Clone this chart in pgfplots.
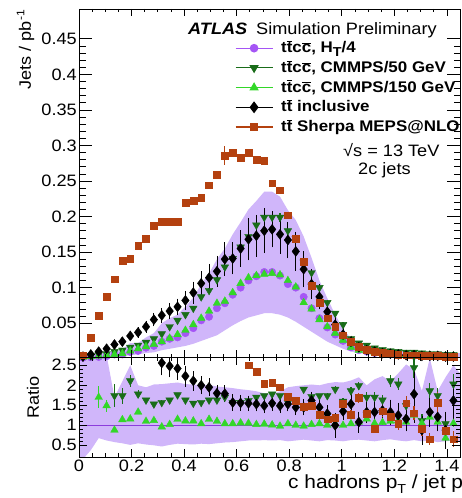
\documentclass[border=0pt]{standalone}
\usepackage{fontspec}
\setmainfont{Liberation Sans}[FakeStretch=1.1]
\usepackage{pgfplots}
\pgfplotsset{compat=1.18}
\usepackage{pgfplotstable}
\usepgfplotslibrary{fillbetween}

\definecolor{htcol}{RGB}{165,85,245}
\definecolor{bandcol}{RGB}{208,182,250}
\definecolor{dkgreen}{RGB}{25,108,25}
\definecolor{ltgreen}{RGB}{50,215,40}
\definecolor{shcol}{RGB}{180,65,15}
\definecolor{onecol}{RGB}{140,60,220}

\newcommand{\tb}{\ensuremath{\overline{\mbox{t}}}}
\newcommand{\cb}{\ensuremath{\overline{\mbox{c}}}}
\newcommand{\sub}[1]{\raisebox{-0.5ex}{\fontsize{13}{13}\selectfont #1}}

% x: bin centre; ht: ttcc H_T/4; c50/c150: CMMPS scales; inc: tt inclusive; sh: Sherpa
\pgfplotstableread{
x     ht     c50   c50e  c150  c150e inc   ince  sh    she
0.015 0.0015 0.003 0.001 0.002 0.001 0.003 0.001 0.005 0.001
0.045 0.002  0.004 0.001 0.003 0.001 0.006 0.001 0.030 0.002
0.075 0.0025 0.006 0.001 0.004 0.001 0.010 0.001 0.061 0.002
0.105 0.0035 0.007 0.001 0.005 0.001 0.014 0.002 0.087 0.002
0.135 0.006  0.010 0.002 0.006 0.001 0.020 0.002 0.112 0.002
0.165 0.006  0.012 0.002 0.007 0.001 0.024 0.002 0.138 0.002
0.195 0.0095 0.016 0.002 0.011 0.001 0.032 0.003 0.141 0.002
0.225 0.011  0.019 0.002 0.014 0.001 0.037 0.004 0.159 0.002
0.255 0.0155 0.023 0.002 0.017 0.001 0.045 0.005 0.169 0.002
0.285 0.018  0.028 0.002 0.020 0.001 0.055 0.006 0.187 0.002
0.315 0.024  0.035 0.003 0.024 0.001 0.061 0.007 0.193 0.002
0.345 0.028  0.045 0.003 0.029 0.001 0.067 0.008 0.193 0.002
0.375 0.030  0.054 0.003 0.034 0.001 0.073 0.008 0.193 0.002
0.405 0.036  0.062 0.003 0.040 0.002 0.082 0.010 0.219 0.003
0.435 0.043  0.071 0.003 0.048 0.002 0.093 0.012 0.222 0.003
0.465 0.054  0.087 0.004 0.057 0.002 0.106 0.014 0.226 0.003
0.495 0.059  0.096 0.004 0.067 0.002 0.114 0.016 0.244 0.003
0.525 0.071  0.111 0.004 0.078 0.002 0.123 0.018 0.259 0.003
0.555 0.078  0.129 0.005 0.081 0.002 0.140 0.020 0.286 0.013
0.585 0.090  0.141 0.005 0.093 0.002 0.141 0.019 0.290 0.003
0.615 0.100  0.157 0.005 0.106 0.002 0.155 0.022 0.283 0.003
0.645 0.110  0.172 0.005 0.114 0.002 0.168 0.026 0.290 0.003
0.675 0.116  0.188 0.006 0.117 0.002 0.173 0.026 0.280 0.003
0.705 0.122  0.199 0.006 0.119 0.002 0.180 0.028 0.279 0.003
0.735 0.122  0.199 0.006 0.120 0.002 0.182 0.022 0.247 0.003
0.765 0.117  0.199 0.006 0.118 0.002 0.175 0.024 0.237 0.003
0.795 0.105  0.180 0.006 0.110 0.002 0.167 0.022 0.202 0.003
0.825 0.100  0.169 0.006 0.101 0.002 0.151 0.024 0.169 0.003
0.855 0.087  0.136 0.005 0.079 0.002 0.126 0.022 0.137 0.003
0.885 0.071  0.121 0.005 0.070 0.002 0.105 0.018 0.103 0.003
0.915 0.057  0.100 0.004 0.055 0.002 0.087 0.014 0.079 0.002
0.945 0.044  0.079 0.004 0.045 0.002 0.066 0.010 0.057 0.002
0.975 0.034  0.064 0.003 0.036 0.001 0.048 0.008 0.045 0.002
1.005 0.025  0.048 0.003 0.026 0.001 0.034 0.006 0.033 0.002
1.035 0.016  0.028 0.002 0.016 0.001 0.024 0.005 0.024 0.002
1.065 0.012  0.022 0.002 0.012 0.001 0.016 0.004 0.017 0.002
1.095 0.010  0.019 0.002 0.011 0.001 0.012 0.003 0.013 0.001
1.125 0.008  0.015 0.002 0.009 0.001 0.010 0.003 0.010 0.001
1.155 0.007  0.013 0.002 0.008 0.001 0.008 0.002 0.008 0.001
1.185 0.006  0.011 0.002 0.007 0.001 0.007 0.002 0.007 0.001
1.215 0.0055 0.010 0.001 0.006 0.001 0.006 0.002 0.006 0.001
1.245 0.005  0.009 0.001 0.006 0.001 0.005 0.002 0.005 0.001
1.275 0.004  0.009 0.001 0.005 0.001 0.005 0.002 0.005 0.001
1.305 0.004  0.008 0.001 0.005 0.001 0.004 0.002 0.004 0.001
1.335 0.004  0.007 0.001 0.005 0.001 0.004 0.002 0.004 0.001
1.365 0.0035 0.007 0.001 0.004 0.001 0.004 0.002 0.004 0.001
1.395 0.0035 0.006 0.001 0.004 0.001 0.003 0.002 0.003 0.001
1.425 0.003  0.006 0.001 0.004 0.001 0.003 0.002 0.003 0.001
}\topdata

% scale-variation envelope of the H_T/4 prediction
\pgfplotstableread{
x     up    lo
0     0.006 0.002
0.015 0.006 0.002
0.045 0.006 0.002
0.075 0.007 0.002
0.105 0.009 0.0022
0.135 0.011 0.004
0.165 0.013 0.0033
0.195 0.022 0.005
0.225 0.022 0.006
0.255 0.030 0.008
0.285 0.036 0.009
0.315 0.050 0.012
0.345 0.057 0.014
0.375 0.062 0.016
0.405 0.073 0.018
0.435 0.086 0.021
0.465 0.105 0.025
0.495 0.120 0.029
0.525 0.140 0.033
0.555 0.155 0.040
0.585 0.175 0.047
0.615 0.192 0.053
0.645 0.210 0.058
0.675 0.222 0.061
0.705 0.235 0.064
0.735 0.235 0.064
0.765 0.228 0.062
0.795 0.209 0.058
0.825 0.195 0.052
0.855 0.172 0.045
0.885 0.142 0.038
0.915 0.110 0.031
0.945 0.085 0.024
0.975 0.062 0.019
1.005 0.042 0.014
1.035 0.028 0.010
1.065 0.022 0.008
1.095 0.019 0.007
1.125 0.016 0.006
1.155 0.014 0.005
1.185 0.012 0.004
1.215 0.011 0.004
1.245 0.011 0.003
1.275 0.010 0.003
1.305 0.009 0.003
1.335 0.009 0.003
1.365 0.008 0.002
1.395 0.008 0.002
1.425 0.008 0.002
1.45  0.008 0.002
}\topband

\pgfplotstableread{
x     up   lo
0     2.60 0.10
0.015 2.75 0.15
0.045 2.90 0.38
0.075 2.90 0.68
0.105 2.75 0.62
0.135 1.70 0.58
0.165 2.10 0.55
0.195 2.50 0.51
0.225 2.00 0.55
0.255 1.95 0.52
0.285 2.02 0.50
0.315 2.03 0.47
0.345 2.05 0.51
0.375 2.07 0.54
0.405 2.03 0.53
0.435 2.02 0.52
0.465 2.00 0.54
0.495 2.01 0.53
0.525 1.97 0.55
0.555 1.95 0.57
0.585 1.93 0.58
0.615 1.90 0.60
0.645 1.88 0.62
0.675 1.85 0.62
0.705 1.80 0.63
0.735 1.78 0.62
0.765 1.85 0.63
0.795 1.95 0.60
0.825 1.98 0.62
0.855 2.00 0.64
0.885 2.02 0.62
0.915 2.00 0.60
0.945 2.05 0.63
0.975 2.08 0.62
1.005 2.07 0.60
1.035 2.12 0.63
1.065 2.20 0.64
1.095 2.00 0.62
1.125 2.15 0.60
1.155 2.23 0.63
1.185 2.10 0.65
1.215 2.30 0.62
1.245 2.52 0.60
1.275 2.40 0.63
1.305 1.86 0.60
1.335 2.68 0.62
1.365 1.86 0.58
1.395 2.20 0.60
1.425 2.50 0.62
1.45  2.30 0.60
}\ratioband

% ratios to the H_T/4 prediction
\pgfplotstableread{
x     r    e
0.135 1.74 0.28
0.165 1.74 0.20
0.195 2.11 0.15
0.225 1.78 0.10
0.255 1.63 0.06
0.285 1.53 0.05
0.315 1.57 0.05
0.345 1.63 0.05
0.375 1.76 0.05
0.405 1.63 0.04
0.435 1.55 0.04
0.465 1.57 0.04
0.495 1.63 0.04
0.525 1.63 0.04
0.555 1.70 0.04
0.585 1.57 0.04
0.615 1.57 0.04
0.645 1.62 0.04
0.675 1.70 0.04
0.705 1.74 0.04
0.735 1.78 0.04
0.765 1.74 0.04
0.795 1.57 0.04
0.825 1.55 0.04
0.855 1.90 0.05
0.885 1.72 0.05
0.915 1.74 0.05
0.945 1.74 0.06
0.975 1.90 0.07
1.005 1.60 0.08
1.035 1.86 0.10
1.065 1.99 0.10
1.095 1.70 0.12
1.125 1.70 0.12
1.155 1.63 0.12
1.185 2.11 0.15
1.215 2.03 0.15
1.245 1.49 0.15
1.275 2.44 0.25
1.305 1.12 0.15
1.335 1.86 0.20
1.365 1.74 0.20
1.395 1.04 0.20
1.425 2.03 0.25
}\rcfifty

\pgfplotstableread{
x     r    e
0.075 1.70 0.28
0.105 1.49 0.15
0.135 0.88 0.05
0.165 1.14 0.04
0.195 1.16 0.04
0.225 1.33 0.04
0.255 1.10 0.03
0.285 1.12 0.03
0.315 0.96 0.03
0.345 1.02 0.03
0.375 1.15 0.03
0.405 1.11 0.03
0.435 1.11 0.03
0.465 1.04 0.03
0.495 1.15 0.03
0.525 1.10 0.03
0.555 1.04 0.03
0.585 1.04 0.03
0.615 1.06 0.03
0.645 1.05 0.03
0.675 1.02 0.03
0.705 1.03 0.03
0.735 1.01 0.03
0.765 0.98 0.03
0.795 1.04 0.03
0.825 1.00 0.03
0.855 0.98 0.03
0.885 1.02 0.03
0.915 1.04 0.03
0.945 1.00 0.03
0.975 1.04 0.04
1.005 1.00 0.04
1.035 1.04 0.05
1.065 1.08 0.05
1.095 1.16 0.06
1.125 1.05 0.06
1.155 1.07 0.06
1.185 1.10 0.07
1.215 1.12 0.07
1.245 1.08 0.08
1.275 1.25 0.08
1.305 1.05 0.08
1.335 1.20 0.10
1.365 1.08 0.10
1.395 0.68 0.10
1.425 1.05 0.10
}\rcfifteen

\pgfplotstableread{
x     r    e
0.315 2.56 0.25
0.345 2.48 0.22
0.375 2.42 0.22
0.405 2.23 0.20
0.435 2.11 0.18
0.465 2.00 0.16
0.495 1.95 0.16
0.525 1.80 0.15
0.555 1.79 0.15
0.585 1.57 0.14
0.615 1.56 0.14
0.645 1.55 0.13
0.675 1.53 0.12
0.705 1.49 0.12
0.735 1.55 0.12
0.765 1.49 0.12
0.795 1.53 0.12
0.825 1.45 0.13
0.855 1.45 0.14
0.885 1.62 0.15
0.915 1.45 0.15
0.945 1.29 0.15
0.975 1.00 0.25
1.005 1.35 0.15
1.035 1.53 0.18
1.065 1.08 0.20
1.095 1.33 0.20
1.125 1.33 0.22
1.155 1.37 0.22
1.185 1.33 0.25
1.215 1.25 0.25
1.245 1.16 0.25
1.275 1.78 0.65
1.305 0.88 0.30
1.335 1.33 0.30
1.365 1.21 0.30
1.395 0.88 0.40
1.425 1.62 0.40
}\rinc

\pgfplotstableread{
x     r    e
0.645 2.50 0.05
0.675 2.34 0.05
0.705 2.04 0.05
0.735 2.07 0.05
0.765 1.95 0.05
0.795 1.72 0.05
0.825 1.62 0.05
0.855 1.47 0.06
0.885 1.49 0.06
0.915 1.27 0.06
0.945 1.15 0.07
0.975 1.19 0.08
1.005 1.53 0.10
1.035 1.27 0.10
1.065 1.68 0.12
1.095 1.29 0.12
1.125 0.92 0.12
1.155 1.35 0.15
1.185 1.22 0.15
1.215 1.04 0.15
1.245 1.55 0.18
1.275 1.30 0.18
1.305 0.92 0.20
1.335 0.65 0.15
1.365 1.57 0.25
1.395 0.86 0.20
1.425 0.65 0.20
}\rsh

\pgfplotsset{
  panel/.style={
    scale only axis, width=381pt, anchor=south west,
    xmin=0, xmax=1.45,
    axis on top, tick align=inside,
    xtick={0,0.2,0.4,0.6,0.8,1,1.2,1.4}, minor x tick num=3,
    tick style={black, line width=0.7pt},
    axis line style={black, line width=0.9pt},
    ticklabel style={font=\fontsize{16.5}{16.5}\selectfont},
    /pgf/number format/assume math mode=true,
    scaled ticks=false,
  },
  pts/.style={only marks, mark size=#1},
}

\begin{document}
\begin{tikzpicture}
% ---------------- distribution ----------------
\begin{axis}[panel,
  at={(79pt,140.7pt)}, height=348.3pt,
  ymin=0.002, ymax=0.492, clip=false,
  xticklabels={},
  ytick={0.05,0.1,0.15,0.2,0.25,0.3,0.35,0.4,0.45}, minor y tick num=4,
  yticklabel style={/pgf/number format/fixed, /pgf/number format/precision=2, inner sep=2pt},
  major tick length=13pt, minor tick length=6.5pt,
  xtick style={/pgfplots/major tick length=7pt, /pgfplots/minor tick length=3.5pt},
  legend image code/.code={\draw[#1, mark repeat=2, mark phase=2] plot coordinates {(0pt,4.5pt) (18.5pt,4.5pt) (37pt,4.5pt)};},
  legend style={draw=none, fill=none, at={(axis description cs:0.4094,0.909)}, anchor=north west,
    inner sep=0pt, outer sep=0pt, row sep=3.7pt, column sep=8pt,
    font=\bfseries\fontsize{15.4}{15.4}\selectfont,
    nodes={inner sep=0pt, outer sep=0pt, text height=12pt, text depth=4pt, anchor=base west}},
  legend cell align=left,
]
\addplot[draw=none, name path=bu, forget plot] table[x=x, y=up] {\topband};
\addplot[draw=none, name path=bl, forget plot] table[x=x, y=lo] {\topband};
\addplot[bandcol, forget plot] fill between[of=bu and bl];

\addplot[pts=3.7pt, mark=*, color=htcol, forget plot] table[x=x, y=ht] {\topdata};
\addplot[pts=4.4pt, mark=triangle*, mark options={rotate=180}, color=dkgreen, forget plot,
  error bars/.cd, y dir=both, y explicit, error mark=none, error bar style={line width=1.2pt}]
  table[x=x, y=c50, y error=c50e] {\topdata};
\addplot[pts=4.4pt, mark=triangle*, color=ltgreen, forget plot,
  error bars/.cd, y dir=both, y explicit, error mark=none, error bar style={line width=1.2pt}]
  table[x=x, y=c150, y error=c150e] {\topdata};
\addplot[pts=5pt, mark=diamond*, color=black, forget plot,
  error bars/.cd, y dir=both, y explicit, error mark=-, error bar style={line width=0.8pt},
  error mark options={line width=0.8pt, mark size=2.5pt}]
  table[x=x, y=inc, y error=ince] {\topdata};
\addplot[pts=3.4pt, mark=square*, color=shcol, forget plot,
  error bars/.cd, y dir=both, y explicit, error mark=none, error bar style={line width=1.2pt}]
  table[x=x, y=sh, y error=she] {\topdata};

\addlegendimage{color=htcol, line width=1.2pt, mark=*, mark size=3.7pt}
\addlegendentry{t\tb c\cb, H\sub{T}/4}
\addlegendimage{color=dkgreen, line width=1.2pt, mark=triangle*, mark size=4.2pt, mark options={rotate=180}}
\addlegendentry{t\tb c\cb, CMMPS/50 GeV}
\addlegendimage{color=ltgreen, line width=1.2pt, mark=triangle*, mark size=4.2pt}
\addlegendentry{t\tb c\cb, CMMPS/150 GeV}
\addlegendimage{color=black, line width=1.2pt, mark=diamond*, mark size=5pt}
\addlegendentry{t\tb\ inclusive}
\addlegendimage{color=shcol, line width=1.2pt, mark=square*, mark size=3.4pt}
\addlegendentry{t\tb\ Sherpa MEPS@NLO}
\end{axis}

% ---------------- ratio ----------------
\begin{axis}[panel,
  at={(79pt,40.7pt)}, height=100pt,
  ymin=0.2, ymax=2.7,
  ytick={0.5,1,1.5,2,2.5}, minor y tick num=4,
  yticklabel style={inner sep=2pt},
  xticklabel style={/pgf/number format/fixed, inner sep=2.5pt},
  major tick length=8pt, minor tick length=4pt,
]
\addplot[draw=none, name path=ru] table[x=x, y=up] {\ratioband};
\addplot[draw=none, name path=rl] table[x=x, y=lo] {\ratioband};
\addplot[bandcol] fill between[of=ru and rl];
\addplot[onecol, line width=1pt] coordinates {(0,1) (1.45,1)};

\addplot[pts=4.4pt, mark=triangle*, mark options={rotate=180}, color=dkgreen,
  error bars/.cd, y dir=both, y explicit, error mark=none, error bar style={line width=1.2pt}]
  table[x=x, y=r, y error=e] {\rcfifty};
\addplot[pts=4.4pt, mark=triangle*, color=ltgreen,
  error bars/.cd, y dir=both, y explicit, error mark=none, error bar style={line width=1.2pt}]
  table[x=x, y=r, y error=e] {\rcfifteen};
\addplot[pts=5pt, mark=diamond*, color=black,
  error bars/.cd, y dir=both, y explicit, error mark=-, error bar style={line width=0.8pt},
  error mark options={line width=0.8pt, mark size=2.5pt}]
  table[x=x, y=r, y error=e] {\rinc};
\addplot[pts=3.4pt, mark=square*, color=shcol,
  error bars/.cd, y dir=both, y explicit, error mark=none, error bar style={line width=1.2pt}]
  table[x=x, y=r, y error=e] {\rsh};
\end{axis}

% ---------------- labels ----------------
\node[anchor=base west, inner sep=0pt, font=\bfseries\itshape\fontsize{16.5}{16.5}\selectfont] at (188pt,463pt) {ATLAS};
\node[anchor=base west, inner sep=0pt, font=\fontsize{16.5}{16.5}\selectfont] at (256pt,463pt) {Simulation Preliminary};
\node[anchor=base west, inner sep=0pt, font=\fontsize{16.5}{16.5}\selectfont] at (343pt,341pt) {√s = 13 TeV};
\node[anchor=base west, inner sep=0pt, font=\fontsize{16.5}{16.5}\selectfont] at (358pt,323pt) {2c jets};
\node[rotate=90, anchor=base east, inner sep=0pt, font=\fontsize{16.5}{16.5}\selectfont] at (31pt,488pt)
  {Jets / pb\raisebox{0.75ex}{\fontsize{11}{11}\selectfont -1}};
\node[rotate=90, anchor=base, inner sep=0pt, font=\fontsize{16.5}{16.5}\selectfont] at (39pt,100.5pt) {Ratio};
\node[anchor=base west, inner sep=0pt, font=\fontsize{19}{19}\selectfont] at (288pt,9.2pt)
  {c hadrons p\sub{T} / jet p\sub{T}};

\pgfresetboundingbox
\useasboundingbox (0,0) rectangle (462pt,498pt);
\end{tikzpicture}
\end{document}
